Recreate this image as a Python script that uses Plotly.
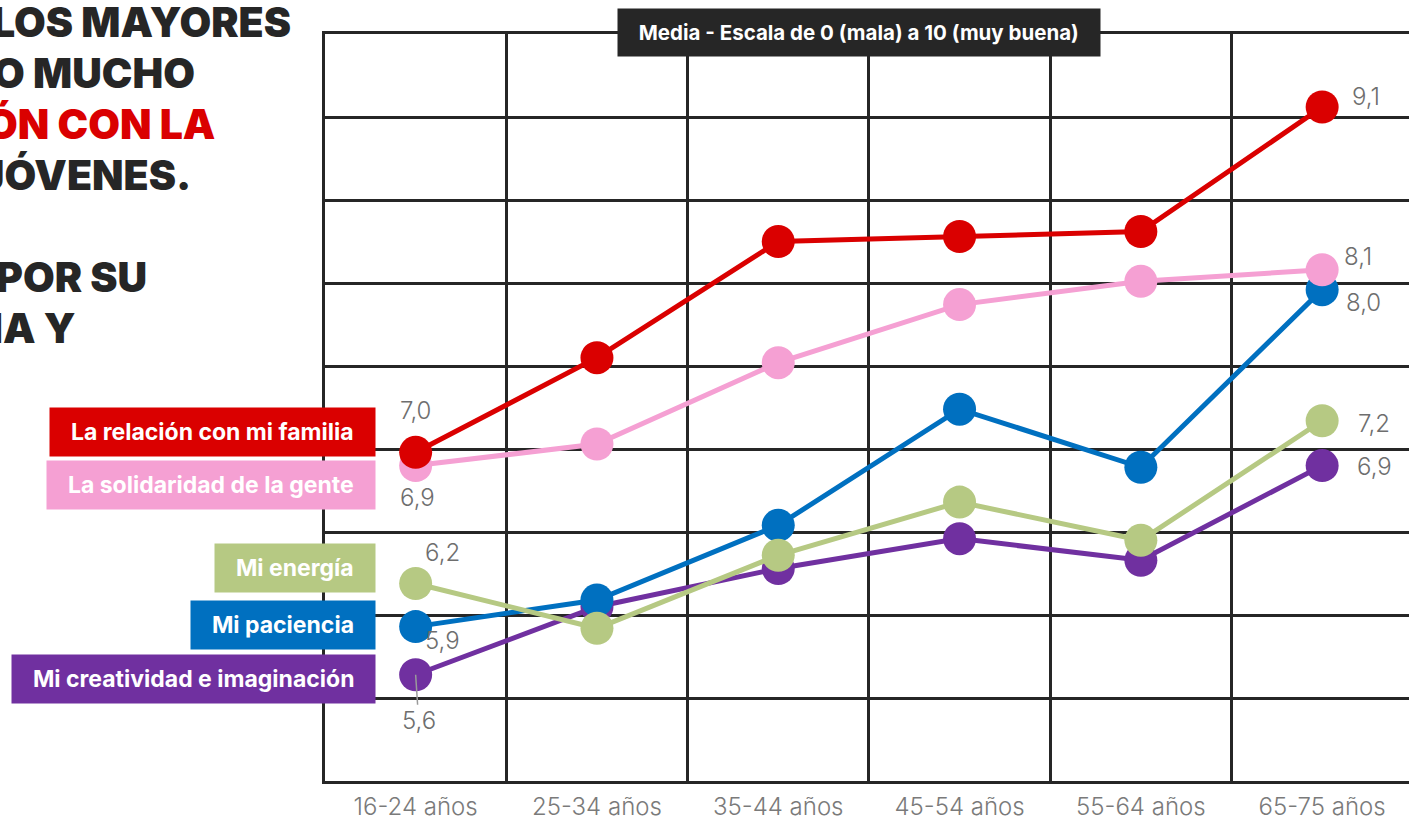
import plotly.graph_objects as go

categories = ["16-24 años", "25-34 años", "35-44 años", "45-54 años", "55-64 años", "65-75 años"]

familia = [6.98, 7.55, 8.25, 8.28, 8.31, 9.06]
solidaridad = [6.90, 7.03, 7.52, 7.87, 8.01, 8.08]
paciencia = [5.93, 6.09, 6.54, 7.24, 6.89, 7.96]
energia = [6.19, 5.92, 6.36, 6.68, 6.45, 7.17]
creatividad = [5.64, 6.05, 6.28, 6.46, 6.33, 6.90]

series_names = ["La relación con mi familia", "La solidaridad de la gente", "Mi energía",
                "Mi paciencia", "Mi creatividad e imaginación"]

headline = ["LOS MAYORES", "O MUCHO", "ÓN CON LA", "JÓVENES.", "POR SU", "IA Y"]
subtitle = "Media - Escala de 0 (mala) a 10 (muy buena)"

RED, PINK, GREEN, BLUE, PURPLE = "#da0000", "#f5a0d3", "#b6c983", "#0070c0", "#7030a0"
DARK = "#262626"
GRAY = "#6e6e6e"

W, H = 1409, 820
ML, MT, MB = 325, 34, 39
CAT_PX = 181.3

fig = go.Figure()

# draw order bottom -> top
order = [
    (creatividad, PURPLE, series_names[4]),
    (paciencia, BLUE, series_names[3]),
    (energia, GREEN, series_names[2]),
    (solidaridad, PINK, series_names[1]),
    (familia, RED, series_names[0]),
]
for vals, col, name in order:
    fig.add_trace(go.Scatter(
        x=categories, y=vals, name=name, mode="lines+markers",
        line=dict(color=col, width=5),
        marker=dict(color=col, size=33),
        showlegend=False, hoverinfo="skip",
    ))

def fmt(v):
    return f"{v:.1f}".replace(".", ",")

LIGHT = "Inter, sans-serif"
lab_font = dict(family=LIGHT, size=24, color=GRAY, weight=300)

# value labels: (series, index, xshift, yshift)
value_labels = [
    (familia, 0, 0, 42), (solidaridad, 0, 2, -32), (energia, 0, 27, 31), (paciencia, 0, 27, -14),
    (familia, 5, 44, 11), (solidaridad, 5, 36, 13), (paciencia, 5, 41, -13),
    (energia, 5, 52, -3), (creatividad, 5, 52, -1),
]
for vals, i, xs, ys in value_labels:
    fig.add_annotation(x=categories[i], y=vals[i], text=fmt(vals[i]), showarrow=False,
                       xshift=xs, yshift=ys, font=lab_font)

# 5,6 with leader line
fig.add_annotation(x=categories[0], y=creatividad[0], text=fmt(creatividad[0]), showarrow=True,
                   arrowhead=0, arrowwidth=1.5, arrowcolor="#9a9a9a", ax=3, ay=46,
                   standoff=0, font=lab_font)

def px_to_paper_x(px):
    return (px - ML) / (W - ML)

def px_to_paper_y(py):
    return (H - MB - py) / (H - MT - MB)

# legend boxes
legend_rows = [
    (series_names[0], RED, 432),
    (series_names[1], PINK, 485),
    (series_names[2], GREEN, 568),
    (series_names[3], BLUE, 625),
    (series_names[4], PURPLE, 679),
]
for name, col, yc in legend_rows:
    fig.add_annotation(xref="paper", yref="paper", x=px_to_paper_x(376), y=px_to_paper_y(yc),
                       xanchor="right", yanchor="middle", showarrow=False,
                       text="&nbsp;&nbsp;" + name + "&nbsp;&nbsp;",
                       font=dict(family="Inter, sans-serif", size=23, color="white", weight=700),
                       bgcolor=col, borderpad=10)

# subtitle box
fig.add_annotation(xref="paper", yref="paper", x=px_to_paper_x(859), y=px_to_paper_y(33),
                   xanchor="center", yanchor="middle", showarrow=False,
                   text="&nbsp;&nbsp;" + subtitle + "&nbsp;&nbsp;",
                   font=dict(family="Inter, sans-serif", size=20.5, color="white", weight=700),
                   bgcolor=DARK, borderpad=11)

# headline (cut off at the left edge)
head_rows = [
    (headline[0], DARK, 293, 22),
    (headline[1], DARK, 197, 73),
    (headline[2], RED, 217, 124),
    (headline[3], DARK, 193, 175),
    (headline[4], DARK, 149, 277),
    (headline[5], DARK, 77, 328),
]
for txt, col, xr, yc in head_rows:
    fig.add_annotation(xref="paper", yref="paper", x=px_to_paper_x(xr), y=px_to_paper_y(yc),
                       xanchor="right", yanchor="middle", showarrow=False, text=txt,
                       font=dict(family="Inter, sans-serif", size=41, color=col, weight=900))

fig.update_layout(
    width=W, height=H,
    margin=dict(l=ML, r=0, t=MT, b=MB, pad=0),
    paper_bgcolor="white", plot_bgcolor="white",
    xaxis=dict(
        type="category", range=[-0.5, -0.5 + (W - ML) / CAT_PX],
        tickson="boundaries", showgrid=True, gridcolor=DARK, gridwidth=3,
        showline=True, linecolor=DARK, linewidth=3, mirror=True,
        ticks="", tickfont=dict(family=LIGHT, size=24, color="#7a7a7a", weight=300),
        ticklabelstandoff=2, zeroline=False, automargin=False,
    ),
    yaxis=dict(
        range=[5, 9.5], dtick=0.5, tick0=5, showgrid=True, gridcolor=DARK, gridwidth=3,
        showline=True, linecolor=DARK, linewidth=3, showticklabels=False, ticks="",
        zeroline=False, automargin=False,
    ),
    showlegend=False,
)

fig.write_html("out.html", config={"displayModeBar": False},
               post_script="document.body.style.margin='0';document.body.style.overflow='hidden';")
